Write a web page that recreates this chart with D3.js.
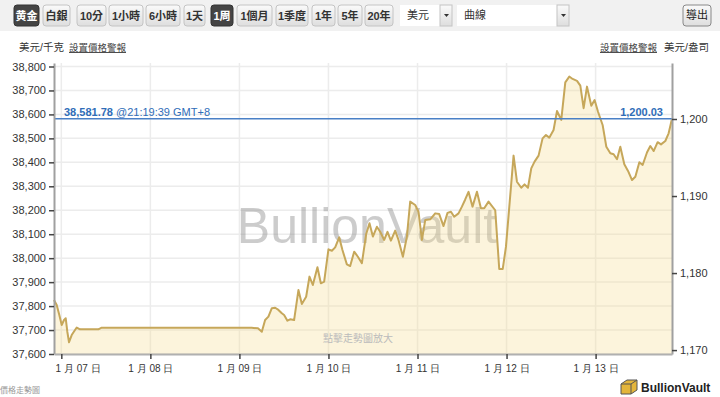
<!DOCTYPE html>
<html>
<head>
<meta charset="utf-8">
<script src="https://cdn.jsdelivr.net/npm/d3@7"></script>
<style>
  body { margin: 0; background: #fff; }
  svg { display: block; font-family: "Liberation Sans", "Noto Sans CJK TC", sans-serif; }
</style>
</head>
<body>
<svg id="chart" width="720" height="397"></svg>
<script>
// Hours after 1 月 07 日 00:00 and the price in USD/kg at that moment
const hours = [
  -1.97, -1.24, -0.54, 0.11, 0.73, 1.19, 1.62, 2.08, 2.80, 3.69, 4.15, 5.04, 5.93, 9.98, 10.89,
  51.3, 53.0, 54.04, 54.93, 55.82, 56.74, 57.63, 58.52, 59.43, 60.05, 60.94, 61.67, 62.75,
  63.91, 64.83, 65.99, 66.88, 67.79, 69.03, 69.95, 70.84, 72.00, 72.92, 73.81, 74.89, 75.77,
  76.96, 77.85, 78.93, 79.93, 81.01, 82.17, 83.06, 83.97, 85.05, 85.94, 87.02, 87.91, 88.83,
  89.99, 90.88, 92.06, 93.14, 94.03, 95.38, 96.27, 97.19, 98.08, 99.43, 100.77, 101.85,
  103.01, 104.09, 105.01, 105.89, 107.05, 107.97, 108.86, 109.75, 110.83, 112.02, 113.09,
  113.98, 115.14, 116.95, 118.03, 118.97, 119.84, 121.89, 122.80, 123.96, 124.85, 125.77,
  126.66, 127.55, 128.63, 129.71, 130.62, 131.51, 132.67, 133.59, 134.75, 135.83, 136.91,
  137.80, 138.99, 139.88, 140.77, 141.68, 142.84, 143.73, 144.65, 145.89, 146.89, 147.97,
  148.86, 149.77, 150.66, 151.74, 152.74, 153.82, 154.71, 155.79, 156.68, 157.87, 158.75,
  159.64, 160.72, 161.63, 162.79, 163.68, 164.59
];
const prices = [
  37825, 37805, 37763, 37721, 37742, 37749, 37693, 37649, 37679, 37700, 37710, 37703, 37703, 37703, 37710,
  37710, 37707, 37693, 37742, 37756, 37791, 37793, 37784, 37770, 37763, 37739, 37745, 37742,
  37867, 37809, 37839, 37923, 37888, 37962, 37895, 37902, 38037, 38031, 38045, 38087, 38034,
  37974, 37967, 38027, 38006, 37979, 38101, 38146, 38090, 38131, 38110, 38076, 38110, 38073,
  38115, 38076, 38006, 38090, 38236, 38222, 38194, 38076, 38159, 38162, 38187, 38184,
  38134, 38189, 38194, 38173, 38187, 38215, 38245, 38277, 38215, 38277, 38208,
  38208, 38236, 38200, 37955, 37955, 38048, 38428, 38319, 38294, 38308, 38294,
  38375, 38403, 38428, 38500, 38514, 38503, 38535, 38614, 38577, 38734, 38758,
  38748, 38740, 38720, 38626, 38716, 38636, 38660, 38611, 38556, 38465, 38438,
  38434, 38413, 38465, 38392, 38364, 38326, 38340, 38400, 38389, 38442, 38468,
  38447, 38484, 38475, 38489, 38521, 38581.78
];
const lastPrice = 38581.78;
const lastPriceOz = 1200.03;
const lastTime = "@21:19:39 GMT+8";
const gramsPerOz = 31.1035;

const leftTicks = [37600, 37700, 37800, 37900, 38000, 38100, 38200, 38300, 38400, 38500, 38600, 38700, 38800];
const rightTicks = [1170, 1180, 1190, 1200];
const dayTicks = ["2015-01-07", "2015-01-08", "2015-01-09", "2015-01-10", "2015-01-11", "2015-01-12", "2015-01-13"];
const dayLabels = ["1 月 07 日", "1 月 08 日", "1 月 09 日", "1 月 10 日", "1 月 11 日", "1 月 12 日", "1 月 13 日"];

const metalButtons = ["黄金", "白銀"];
const rangeButtons = ["10分", "1小時", "6小時", "1天", "1周", "1個月", "1季度", "1年", "5年", "20年"];

const svg = d3.select("#chart");
const margin = { top: 63, right: 48, bottom: 43, left: 54 };
const width = 720, height = 397;
const base = new Date(2015, 0, 7);
const toDate = h => new Date(base.getTime() + h * 3600e3);
const data = hours.map((h, i) => ({ date: toDate(h), value: prices[i] }));

const x = d3.scaleTime()
  .domain([data[0].date, data[data.length - 1].date])
  .range([margin.left, width - margin.right]);

const y = d3.scaleLinear()
  .domain([37600, 38814.6])
  .range([height - margin.bottom, margin.top]);

const kgPerOz = 1000 / gramsPerOz;
const yRight = d3.scaleLinear()
  .domain(y.domain().map(v => v / kgPerOz))
  .range(y.range());

/**
 * Toolbar on top
 */
svg.append("rect").attr("width", width).attr("height", 31).attr("fill", "#f1f1f1");

const grad = svg.append("defs").append("linearGradient")
  .attr("id", "btn").attr("x1", 0).attr("x2", 0).attr("y1", 0).attr("y2", 1);
grad.append("stop").attr("offset", "0%").attr("stop-color", "#fafafa");
grad.append("stop").attr("offset", "100%").attr("stop-color", "#dedede");

const buttonBoxes = [
  [14, 25], [43, 27], [77, 29], [109, 34], [146, 34], [184, 21], [211, 22], [237, 35], [276, 32], [312, 23], [338, 24], [365, 28]
];
const buttonLabels = metalButtons.concat(rangeButtons);
const selected = ["黄金", "1周"];

const btn = svg.append("g").selectAll("g")
  .data(buttonLabels)
  .join("g")
  .attr("transform", (d, i) => `translate(${buttonBoxes[i][0]},5)`);

btn.append("rect")
  .attr("width", (d, i) => buttonBoxes[i][1])
  .attr("height", 21)
  .attr("rx", 3)
  .attr("fill", d => selected.includes(d) ? "#444" : "url(#btn)")
  .attr("stroke", d => selected.includes(d) ? "#333" : "#c4c4c4");

btn.append("text")
  .attr("x", (d, i) => buttonBoxes[i][1] / 2)
  .attr("y", 15)
  .attr("text-anchor", "middle")
  .attr("font-size", 11)
  .attr("font-weight", "bold")
  .attr("fill", d => selected.includes(d) ? "#fff" : "#333")
  .text(d => d);

// the two drop downs
const selects = [[400, 52, "美元"], [457, 112, "曲線"]];
selects.forEach(([sx, sw, label]) => {
  svg.append("rect").attr("x", sx).attr("y", 5).attr("width", sw).attr("height", 21).attr("fill", "#fff");
  svg.append("text").attr("x", sx + 7).attr("y", 19).attr("font-size", 11).attr("fill", "#333").text(label);
  svg.append("rect").attr("x", sx + sw - 12).attr("y", 5).attr("width", 12).attr("height", 21)
    .attr("fill", "url(#btn)").attr("stroke", "#c4c4c4");
  svg.append("path")
    .attr("d", `M${sx + sw - 8},14 h5 l-2.5,3 z`).attr("fill", "#333");
});

svg.append("rect").attr("x", 683).attr("y", 5).attr("width", 28).attr("height", 21).attr("rx", 3)
  .attr("fill", "url(#btn)").attr("stroke", "#888");
svg.append("text").attr("x", 697).attr("y", 19).attr("text-anchor", "middle")
  .attr("font-size", 11).attr("fill", "#222").text("導出");

/**
 * Unit labels
 */
svg.append("text").attr("x", 19).attr("y", 51).attr("font-size", 10.5).attr("fill", "#333").text("美元/千克");
svg.append("text").attr("x", 69).attr("y", 51).attr("font-size", 9.5).attr("fill", "#444")
  .attr("text-decoration", "underline").text("設置價格警報");
svg.append("text").attr("x", 657).attr("y", 51).attr("text-anchor", "end").attr("font-size", 9.5).attr("fill", "#444")
  .attr("text-decoration", "underline").text("設置價格警報");
svg.append("text").attr("x", 664).attr("y", 51).attr("font-size", 10.5).attr("fill", "#333").text("美元/盎司");

/**
 * Grid
 */
const dayDates = dayTicks.map(s => { const p = s.split("-"); return new Date(+p[0], +p[1] - 1, +p[2]); });

svg.append("g")
  .selectAll("line")
  .data(leftTicks)
  .join("line")
  .attr("x1", margin.left).attr("x2", width - margin.right)
  .attr("y1", d => y(d)).attr("y2", d => y(d))
  .attr("stroke", "#ececec").attr("stroke-width", 1.5);

svg.append("g")
  .selectAll("line")
  .data(dayDates)
  .join("line")
  .attr("x1", d => x(d)).attr("x2", d => x(d))
  .attr("y1", margin.top).attr("y2", height - margin.bottom)
  .attr("stroke", "#ececec").attr("stroke-width", 1.5);

// watermark
svg.append("text")
  .attr("x", (margin.left + width - margin.right) / 2 + 4)
  .attr("y", 243)
  .attr("text-anchor", "middle")
  .attr("font-size", 50)
  .attr("fill", "#888")
  .attr("opacity", 0.42)
  .text("BullionVault");

/**
 * Price series
 */
svg.append("path")
  .datum(data)
  .attr("fill", "#f5d98a")
  .attr("fill-opacity", 0.3)
  .attr("d", d3.area()
    .x(d => x(d.date))
    .y0(height - margin.bottom)
    .y1(d => y(d.value)));

svg.append("text")
  .attr("x", 358).attr("y", 342)
  .attr("text-anchor", "middle")
  .attr("font-size", 10)
  .attr("fill", "#bbb")
  .text("點擊走勢圖放大");

svg.append("path")
  .datum(data)
  .attr("fill", "none")
  .attr("stroke", "#c6a75a")
  .attr("stroke-width", 2)
  .attr("stroke-linejoin", "round")
  .attr("d", d3.line()
    .x(d => x(d.date))
    .y(d => y(d.value)));

// last price line
svg.append("line")
  .attr("x1", margin.left).attr("x2", width - margin.right)
  .attr("y1", y(lastPrice)).attr("y2", y(lastPrice))
  .attr("stroke", "#4a80c6").attr("stroke-width", 1.5);

const lastLabel = svg.append("text")
  .attr("x", 64).attr("y", y(lastPrice) - 3)
  .attr("font-size", 11).attr("fill", "#2f6db8");
lastLabel.append("tspan").attr("font-weight", "bold").text(d3.format(",.2f")(lastPrice));
lastLabel.append("tspan").text(" " + lastTime);

svg.append("text")
  .attr("x", width - margin.right - 9).attr("y", y(lastPrice) - 3)
  .attr("text-anchor", "end")
  .attr("font-size", 11).attr("font-weight", "bold").attr("fill", "#2f6db8")
  .text(d3.format(",.2f")(lastPriceOz));

/**
 * Axes
 */
function styleAxis(g, lineColor) {
  g.select(".domain").attr("stroke", lineColor).attr("stroke-width", 2);
  g.selectAll(".tick line").attr("stroke", "#444").attr("stroke-width", 1.5);
  g.selectAll(".tick text").attr("fill", "#333").attr("font-size", 11)
    .attr("font-family", "Liberation Sans, sans-serif");
}

svg.append("g")
  .attr("transform", `translate(${margin.left},0)`)
  .call(d3.axisLeft(y).tickValues(leftTicks).tickFormat(d3.format(",")).tickSize(5).tickSizeOuter(0).tickPadding(3))
  .call(g => styleAxis(g, "#a0a0a0"));

svg.append("g")
  .attr("transform", `translate(${width - margin.right},0)`)
  .call(d3.axisRight(yRight).tickValues(rightTicks).tickFormat(d3.format(",")).tickSize(5).tickSizeOuter(0).tickPadding(3))
  .call(g => styleAxis(g, "#a0a0a0"));

const xAxisG = svg.append("g")
  .attr("transform", `translate(0,${height - margin.bottom})`)
  .call(d3.axisBottom(x).tickValues(dayDates).tickFormat((d, i) => dayLabels[i]).tickSize(5).tickSizeOuter(0).tickPadding(6))
  .call(g => styleAxis(g, "#b0b0b0"));
xAxisG.selectAll(".tick text").attr("font-size", 10);

// keep the first label inside the plot area
xAxisG.selectAll(".tick text").each(function () {
  const t = d3.select(this);
  const box = this.getBBox();
  const tx = x(dayDates[dayLabels.indexOf(t.text())]);
  if (tx + box.x < margin.left) {
    t.attr("dx", margin.left + 1 - (tx + box.x));
  }
});

/**
 * Footer
 */
svg.append("text").attr("x", 0).attr("y", 393).attr("font-size", 8).attr("fill", "#999").text("價格走勢圖");

const logo = svg.append("g").attr("transform", "translate(620,379)");
logo.append("path").attr("d", "M1,5 L7,1 L17,1 L17,11 L11,15 L1,15 Z").attr("fill", "#e3b53b").attr("stroke", "#555").attr("stroke-width", 1);
logo.append("path").attr("d", "M1,5 L11,5 L17,1 M11,5 L11,15").attr("fill", "none").attr("stroke", "#555").attr("stroke-width", 1);
logo.append("text").attr("x", 21).attr("y", 13).attr("font-size", 12).attr("font-weight", "bold").attr("fill", "#222").text("BullionVault");
</script>
</body>
</html>
